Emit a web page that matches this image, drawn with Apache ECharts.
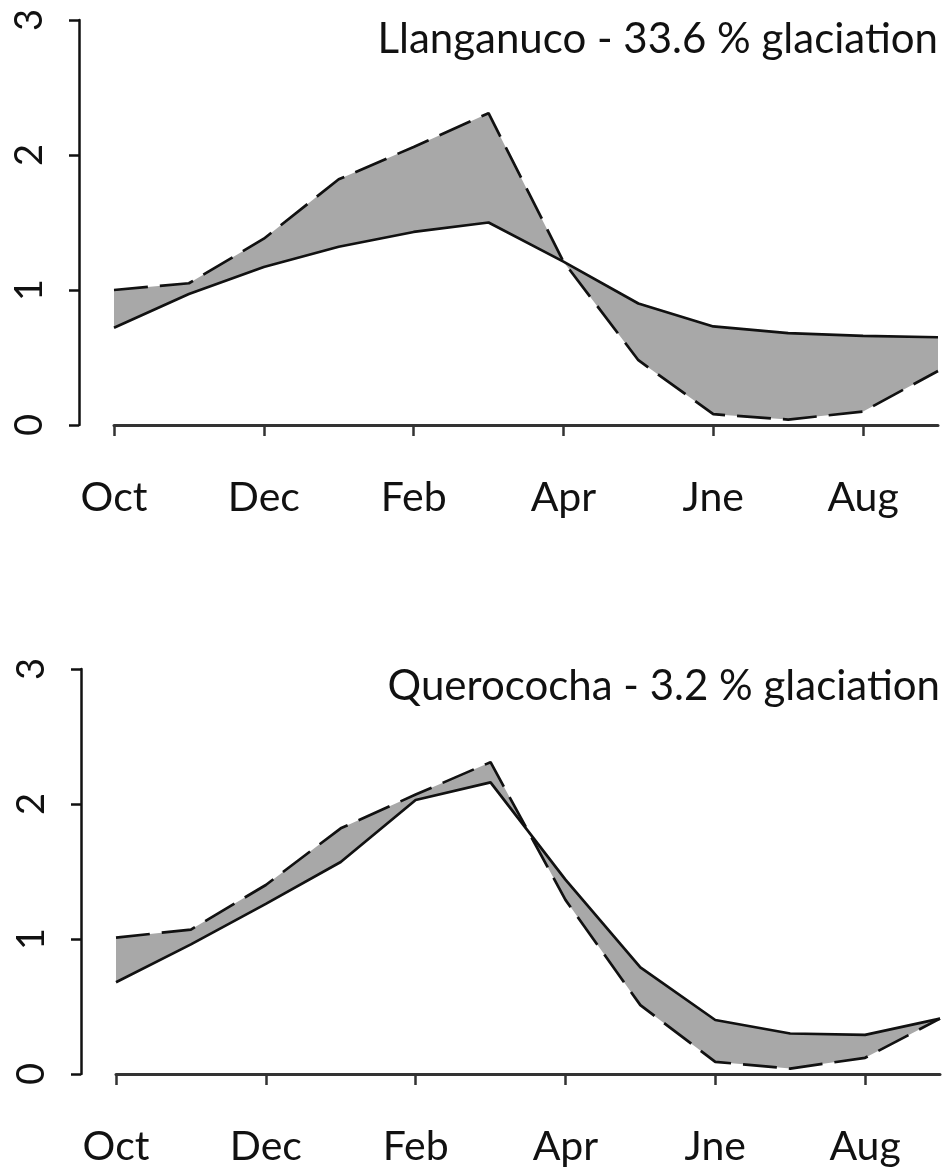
<!DOCTYPE html>
<html>
<head>
<meta charset="utf-8">
<script src="https://cdn.jsdelivr.net/npm/echarts@6/dist/echarts.min.js"></script>
<style>
html,body{margin:0;padding:0;background:#fff;}
#chart{width:943px;height:1170px;}
</style>
</head>
<body>
<div id="chart"></div>
<script>
// Months (x categories); labels shown every second month
const months = ['Oct','Nov','Dec','Jan','Feb','Mar','Apr','May','Jne','Jul','Aug','Sep'];
const yTicks = [0, 1, 2, 3];
const panelTitles = ['Llanganuco - 33.6 % glaciation', 'Querococha - 3.2 % glaciation'];

// Panel 1: Llanganuco
const llanganucoDashed = [1.00, 1.05, 1.38, 1.82, 2.06, 2.31, 1.21, 0.48, 0.08, 0.04, 0.10, 0.40];
const llanganucoSolid  = [0.72, 0.97, 1.17, 1.32, 1.43, 1.50, 1.21, 0.90, 0.73, 0.68, 0.66, 0.65];

// Panel 2: Querococha
const querocochaDashed = [1.01, 1.07, 1.40, 1.82, 2.07, 2.31, 1.29, 0.51, 0.09, 0.04, 0.12, 0.41];
const querocochaSolid  = [0.68, 0.96, 1.26, 1.57, 2.03, 2.16, 1.44, 0.79, 0.40, 0.30, 0.29, 0.41];

const panels = [
  {dashed: llanganucoDashed, solid: llanganucoSolid},
  {dashed: querocochaDashed, solid: querocochaSolid}
];

const FONT = 'Lato';
const INK = '#111';

const chart = echarts.init(document.getElementById('chart'), null, {renderer: 'canvas'});

const grids = [
  {left: 114, right: 5, top: 20, height: 405},
  {left: 116, right: 3, top: 669, height: 405}
];

function xAxisFor(i) {
  return {
    type: 'category', gridIndex: i, data: months, boundaryGap: false,
    position: 'bottom', offset: 21,
    axisLine: {show: true, lineStyle: {color: '#333', width: 3}},
    axisTick: {show: true, interval: 1, length: 11, lineStyle: {color: '#333', width: 2.5}},
    axisLabel: {interval: 1, color: INK, fontFamily: FONT, fontSize: 41, margin: 31},
    splitLine: {show: false}
  };
}
function yAxisFor(i) {
  return {
    type: 'value', gridIndex: i, min: yTicks[0], max: yTicks[yTicks.length - 1], interval: 1,
    position: 'left', offset: 35,
    axisLine: {show: true, lineStyle: {color: INK, width: 2.5}},
    axisTick: {show: true, length: 10, lineStyle: {color: INK, width: 2.5}},
    axisLabel: {rotate: 90, color: INK, fontFamily: FONT, fontSize: 38, margin: 30},
    splitLine: {show: false}
  };
}

const series = [];
panels.forEach((p, i) => {
  series.push({
    type: 'custom', xAxisIndex: i, yAxisIndex: i, data: [0], silent: true, z: 1,
    renderItem: function (params, api) {
      const pts = [];
      for (let k = 0; k < p.dashed.length; k++) pts.push(api.coord([k, p.dashed[k]]));
      for (let k = p.solid.length - 1; k >= 0; k--) pts.push(api.coord([k, p.solid[k]]));
      return {type: 'polygon', shape: {points: pts}, style: {fill: '#a8a8a8', stroke: null}};
    }
  });
  series.push({
    type: 'line', xAxisIndex: i, yAxisIndex: i, data: p.solid, symbol: 'none', z: 3,
    lineStyle: {color: INK, width: 2.7}
  });
  series.push({
    type: 'line', xAxisIndex: i, yAxisIndex: i, data: p.dashed, symbol: 'none', z: 3,
    lineStyle: {color: INK, width: 2.7, type: [34, 12]}
  });
});

chart.setOption({
  animation: false,
  backgroundColor: '#fff',
  title: [
    {text: panelTitles[0], right: 5, top: 18, padding: 0,
     textStyle: {fontFamily: FONT, fontSize: 42, fontWeight: 'normal', color: INK}},
    {text: panelTitles[1], right: 3, top: 665, padding: 0,
     textStyle: {fontFamily: FONT, fontSize: 42, fontWeight: 'normal', color: INK}}
  ],
  grid: grids,
  xAxis: [xAxisFor(0), xAxisFor(1)],
  yAxis: [yAxisFor(0), yAxisFor(1)],
  series: series
});
</script>
</body>
</html>
